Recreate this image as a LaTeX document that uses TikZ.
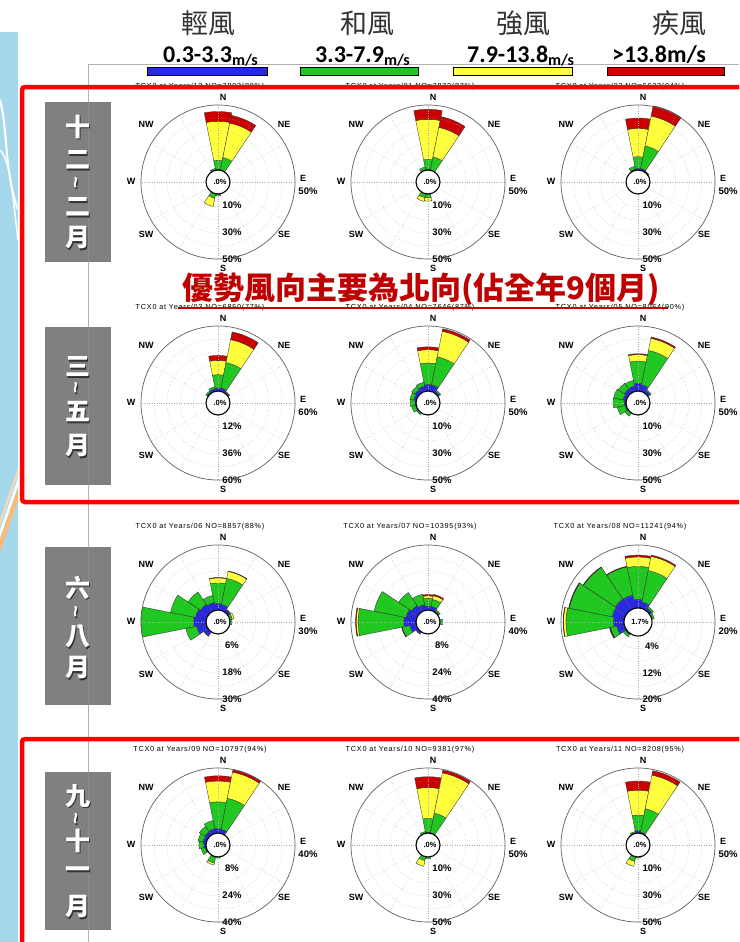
\documentclass[tikz,border=0pt]{standalone}
\usepackage{fontspec}
\setmainfont{Liberation Sans}
\newfontfamily\cjk{Noto Sans CJK TC}
\newfontfamily\carl{Carlito}
\newfontfamily\ttl{Liberation Sans}[LetterSpace=10]
\definecolor{wblue}{RGB}{40,40,235}
\definecolor{wgreen}{RGB}{30,200,30}
\definecolor{wyellow}{RGB}{255,255,60}
\definecolor{wred}{RGB}{205,0,0}
\definecolor{boxred}{RGB}{255,0,0}
\definecolor{lblgray}{RGB}{128,128,128}
\definecolor{mapblue}{RGB}{166,216,236}
\definecolor{titred}{RGB}{192,0,0}
\definecolor{hdrgray}{RGB}{50,50,50}
\tikzset{
  gridl/.style={gray!65, dotted, line width=0.45pt},
  outc/.style={gray!75!black, line width=0.7pt},
  dirl/.style={font=\bfseries\fontsize{9}{9}\selectfont, inner sep=0pt},
  ringl/.style={font=\bfseries\fontsize{9.5}{9.5}\selectfont, inner sep=0pt},
  cenl/.style={font=\bfseries\fontsize{7.5}{7.5}\selectfont, inner sep=0pt},
  ttlsty/.style={font=\ttl\fontsize{7.3}{7.3}\selectfont, inner sep=0pt},
  barsty/.style={draw=black!80, line width=0.35pt},
  lblbox/.style={fill=lblgray, draw=none},
  redframe/.style={draw=boxred, line width=4.5pt, rounded corners=3pt},
  legbar/.style={draw=black, line width=0.8pt},
  spd/.style={anchor=base west, inner sep=0pt, font=\carl\bfseries\fontsize{24}{24}\selectfont},
  hdr/.style={font=\cjk\fontsize{27}{27}\selectfont, text=hdrgray, inner sep=0pt},
  vchs/.style={font=\cjk\bfseries\fontsize{25}{25}\selectfont, inner sep=0pt}
}
% one coloured band of one sector: #1 compass angle, #2 inner, #3 outer (ring units), #4 colour
\newcommand\band[4]{%
  \ifdim #3pt>#2pt\relax
    \pgfmathsetmacro\rIn{\rZ+(#2)*\rU}%
    \pgfmathsetmacro\rOut{\rZ+(#3)*\rU}%
    \pgfmathsetmacro\angA{#1-101.25}%
    \pgfmathsetmacro\angB{#1-78.75}%
    \filldraw[barsty, fill=#4] (\angA:\rIn) -- (\angA:\rOut)
      arc[start angle=\angA, end angle=\angB, radius=\rOut] -- (\angB:\rIn)
      arc[start angle=\angB, end angle=\angA, radius=\rIn] -- cycle;
  \fi}
\newcommand\rosebars[1]{%
  \foreach \ca/\vB/\vG/\vY/\vR in {#1}{%
    \band{\ca}{0}{\vB}{wblue}%
    \band{\ca}{\vB}{\vG}{wgreen}%
    \band{\ca}{\vG}{\vY}{wyellow}%
    \band{\ca}{\vY}{\vR}{wred}%
  }}
% #1 cx, #2 cy, #3 hole radius, #4 #5 #6 ring labels, #7 centre label, #8 title, #9 data
\newcommand\windrose[9]{%
  \begin{scope}[shift={(#1,#2)}]
    \pgfmathsetmacro\rZ{#3}%
    \pgfmathsetmacro\rU{(77-#3)/5}%
    \rosebars{#9}
    \foreach \kk in {1,...,4}{\draw[gridl] (0,0) circle[radius={\rZ+\kk*\rU}];}
    \foreach \tA in {0,30,...,330}{\draw[gridl] (\tA:\rZ) -- (\tA:77);}
    \draw[outc] (0,0) circle[radius=77];
    \filldraw[fill=white, draw=black, line width=1.1pt] (0,0) circle[radius=\rZ];
    \node[dirl] at (5,-85) {N};
    \node[dirl] at (5,86) {S};
    \node[dirl] at (-87,-1) {W};
    \node[dirl] at (85,-4) {E};
    \node[dirl] at (-72,-58) {NW};
    \node[dirl] at (66,-58) {NE};
    \node[dirl] at (-72,52) {SW};
    \node[dirl] at (66,52) {SE};
    \node[ringl] at (90,9) {#6};
    \node[ringl] at (14,{\rZ+\rU-2}) {#4};
    \node[ringl] at (14,{\rZ+3*\rU-1}) {#5};
    \node[ringl] at (14,77) {#6};
    \node[cenl] at (2,0) {#7};
    \node[ttlsty] at (-18,-95) {#8};
  \end{scope}}
\newcommand\vch[3]{%
  \node[vchs, text=black!80] at (#1+1.3,#2+1.3) {#3};
  \node[vchs, text=white] at (#1,#2) {#3};}
\newcommand\vtil[2]{%
  \node[rotate=90, inner sep=0pt, font=\bfseries\fontsize{20}{20}\selectfont, text=black!80] at (#1+1.2,#2+1.2) {\textasciitilde};
  \node[rotate=90, inner sep=0pt, font=\bfseries\fontsize{20}{20}\selectfont, text=white] at (#1,#2) {\textasciitilde};}

\begin{document}
\begin{tikzpicture}[x=1pt, y=1pt, yscale=-1]
\useasboundingbox (0,0) rectangle (739,942);
\clip (0,0) rectangle (739,942);
\fill[white] (0,0) rectangle (739,942);

% map strip at the left
\fill[mapblue] (0,32) rectangle (18,942);
\draw[white, line width=2pt] (0,100) .. controls (8,130) and (4,170) .. (18,210);
\draw[white, line width=1.5pt] (0,150) .. controls (10,160) and (12,190) .. (18,240);
\fill[orange!55] (0,540) -- (18,488) -- (18,500) -- (0,552) -- cycle;
\fill[white] (0,530) -- (18,478) -- (18,486) -- (0,538) -- cycle;
\fill[white!70!orange] (0,520) -- (18,468) -- (18,474) -- (0,526) -- cycle;

% frame lines of the embedded picture
\draw[gray!60, line width=0.6pt] (88,64) -- (739,64);
\draw[gray!60, line width=0.6pt] (88,64) -- (88,942);

% wind roses
\windrose{218}{182}{12}{10\%}{30\%}{50\%}{.0\%}{TCX0 at Years/12 NO=7892(88\%)}
  {0/0.05/0.75/3.75/4.5, 22.5/0.05/1.0/3.7/4.3, 337.5/0.05/0.15/0.15/0.15, 180/0.03/0.15/0.15/0.15, 202.5/0.03/0.35/1.0/1.0}
\windrose{428}{182}{12}{10\%}{30\%}{50\%}{.0\%}{TCX0 at Years/01 NO=7873(87\%)}
  {0/0.05/0.82/3.9/4.67, 22.5/0.05/1.05/3.36/4.2, 337.5/0.05/0.25/0.25/0.25, 180/0.03/0.3/0.55/0.55, 202.5/0.03/0.3/0.6/0.6}
\windrose{638}{182}{12}{10\%}{30\%}{50\%}{.0\%}{TCX0 at Years/02 NO=6633(94\%)}
  {0/0.15/1.03/3.2/4.0, 22.5/0.15/1.9/4.25/5.05, 337.5/0.1/0.3/0.3/0.3, 45/0.05/0.1/0.1/0.1}

\windrose{218}{403}{12}{12\%}{36\%}{60\%}{.0\%}{TCX0 at Years/03 NO=6850(77\%)}
  {0/0.23/1.26/2.36/2.74, 22.5/0.25/2.25/4.05/4.65, 337.5/0.2/0.35/0.35/0.35, 315/0.1/0.2/0.2/0.2, 45/0.1/0.15/0.15/0.15}
\windrose{428}{403}{12}{10\%}{30\%}{50\%}{.0\%}{TCX0 at Years/04 NO=7646(87\%)}
  {0/0.5/2.15/3.18/3.4, 22.5/0.5/2.7/4.7/4.9, 337.5/0.4/0.7/0.7/0.7, 315/0.3/0.6/0.6/0.6, 292.5/0.2/0.5/0.5/0.5, 270/0.1/0.45/0.45/0.45, 247.5/0.05/0.35/0.35/0.35, 225/0/0.15/0.15/0.15, 45/0.15/0.25/0.25/0.25}
\windrose{638}{403}{12}{10\%}{30\%}{50\%}{.0\%}{TCX0 at Years/05 NO=8064(90\%)}
  {0/0.6/2.3/2.8/2.87, 22.5/0.5/3.2/4.15/4.25, 337.5/0.4/0.85/0.85/0.85, 315/0.35/0.9/0.9/0.9, 292.5/0.25/1.0/1.0/1.0, 270/0.15/1.0/1.0/1.0, 247.5/0.1/0.7/0.7/0.7, 225/0/0.3/0.3/0.3, 45/0.2/0.3/0.3/0.3}

\windrose{218}{622}{12}{6\%}{18\%}{30\%}{.0\%}{TCX0 at Years/06 NO=8857(88\%)}
  {0/0.5/2.08/2.47/2.5, 22.5/0.45/2.5/3.05/3.08, 337.5/0.6/1.16/1.16/1.16, 315/0.7/1.85/1.85/1.85, 292.5/0.85/2.8/2.8/2.8, 270/0.97/5.0/5.0/5.0, 247.5/0.75/1.6/1.6/1.6, 225/0.35/0.4/0.4/0.4, 45/0.2/0.25/0.25/0.25, 67.5/0/0.2/0.35/0.35, 90/0/0.15/0.15/0.15}
\windrose{428}{622}{12}{8\%}{24\%}{40\%}{.0\%}{TCX0 at Years/07 NO=10395(93\%)}
  {0/0.3/0.9/1.1/1.2, 22.5/0.3/0.85/1.15/1.25, 337.5/0.45/1.25/1.25/1.25, 315/0.6/1.8/1.8/1.8, 292.5/0.8/3.3/3.3/3.3, 270/0.95/4.45/4.6/4.65, 247.5/0.5/1.1/1.1/1.15, 225/0.2/0.2/0.2/0.2, 90/0/0.2/0.2/0.2, 45/0.1/0.2/0.2/0.2}
\windrose{638}{622}{14}{4\%}{12\%}{20\%}{1.7\%}{TCX0 at Years/08 NO=11241(94\%)}
  {0/0.7/3.3/4.05/4.2, 22.5/0.5/3.05/4.2/4.3, 337.5/1.07/3.36/3.36/3.4, 315/1.07/4.1/4.1/4.15, 292.5/1.0/4.45/4.45/4.5, 270/0.83/4.6/4.8/4.83, 247.5/0.6/1.1/1.15/1.2, 225/0.1/0.3/0.3/0.3, 45/0.2/0.35/0.35/0.35, 67.5/0/0.2/0.2/0.2}

\windrose{218}{845}{12}{8\%}{24\%}{40\%}{.0\%}{TCX0 at Years/09 NO=10797(94\%)}
  {0/0.36/2.4/4.0/4.4, 22.5/0.3/2.74/4.8/5.0, 337.5/0.35/1.0/1.0/1.0, 315/0.3/0.8/0.8/0.8, 292.5/0.25/0.65/0.65/0.65, 270/0.2/0.55/0.55/0.55, 247.5/0.1/0.4/0.4/0.4, 202.5/0.05/0.5/0.65/0.65, 180/0/0.1/0.1/0.1}
\windrose{428}{845}{12}{10\%}{30\%}{50\%}{.0\%}{TCX0 at Years/10 NO=9381(97\%)}
  {0/0.05/1.13/3.5/4.33, 22.5/0.05/1.57/4.74/4.95, 337.5/0/0.15/0.15/0.15, 202.5/0.03/0.3/0.75/0.75, 180/0/0.15/0.15/0.15}
\windrose{638}{845}{12}{10\%}{30\%}{50\%}{.0\%}{TCX0 at Years/11 NO=8208(95\%)}
  {0/0.2/1.38/3.3/4.0, 22.5/0.1/1.92/4.56/4.9, 337.5/0.05/0.15/0.15/0.15, 202.5/0.03/0.35/0.75/0.75, 180/0/0.1/0.1/0.1}

% season label boxes
\fill[lblbox] (45,102) rectangle (111,262);
\fill[lblbox] (45,327) rectangle (111,485);
\fill[lblbox] (45,547) rectangle (111,705);
\fill[lblbox] (45,772) rectangle (111,930);
\draw[black!45, line width=0.6pt] (88,102) -- (88,262);
\draw[black!45, line width=0.6pt] (88,327) -- (88,485);
\draw[black!45, line width=0.6pt] (88,547) -- (88,705);
\draw[black!45, line width=0.6pt] (88,772) -- (88,930);
\vch{78}{127}{十}\vch{78}{160}{二}\vtil{78}{183}\vch{78}{207}{二}\vch{78}{238}{月}
\vch{78}{367}{三}\vtil{78}{388}\vch{78}{412}{五}\vch{78}{446}{月}
\vch{78}{588}{六}\vtil{78}{612}\vch{78}{637}{八}\vch{78}{668}{月}
\vch{78}{796}{九}\vtil{78}{819}\vch{78}{841}{十}\vch{78}{873}{一}\vch{78}{907}{月}

% red frames
\draw[redframe] (22,87) rectangle (770,502);
\draw[redframe] (22,739) rectangle (770,980);

% header
\node[hdr] (h1) at (208,23) {輕風};
\node[hdr] (h2) at (367,23) {和風};
\node[hdr] (h3) at (523,23) {強風};
\node[hdr] (h4) at (679,23) {疾風};
\node[spd] (s1) at (163,63) {0.3-3.3\raisebox{-2.5pt}{\fontsize{16}{16}\selectfont m/s}};
\node[spd] (s2) at (315,63) {3.3-7.9\raisebox{-2.5pt}{\fontsize{16}{16}\selectfont m/s}};
\node[spd] (s3) at (467,63) {7.9-13.8\raisebox{-2.5pt}{\fontsize{16}{16}\selectfont m/s}};
\node[spd] (s4) at (612,63) {>13.8m/s};
\filldraw[legbar, fill=wblue] (147,67) rectangle (267,75);
\filldraw[legbar, fill=wgreen] (300,67) rectangle (418,75);
\filldraw[legbar, fill=wyellow] (453,67) rectangle (572,75);
\filldraw[legbar, fill=wred] (607,67) rectangle (724,75);

% red statement
\node[font=\cjk\bfseries\fontsize{31}{31}\selectfont, text=titred, inner sep=0pt] (msg) at (421,289) {優勢風向主要為北向(佔全年9個月)};
\draw[titred, line width=1.2pt] (178,308) -- (668,308);
\end{tikzpicture}
\end{document}
